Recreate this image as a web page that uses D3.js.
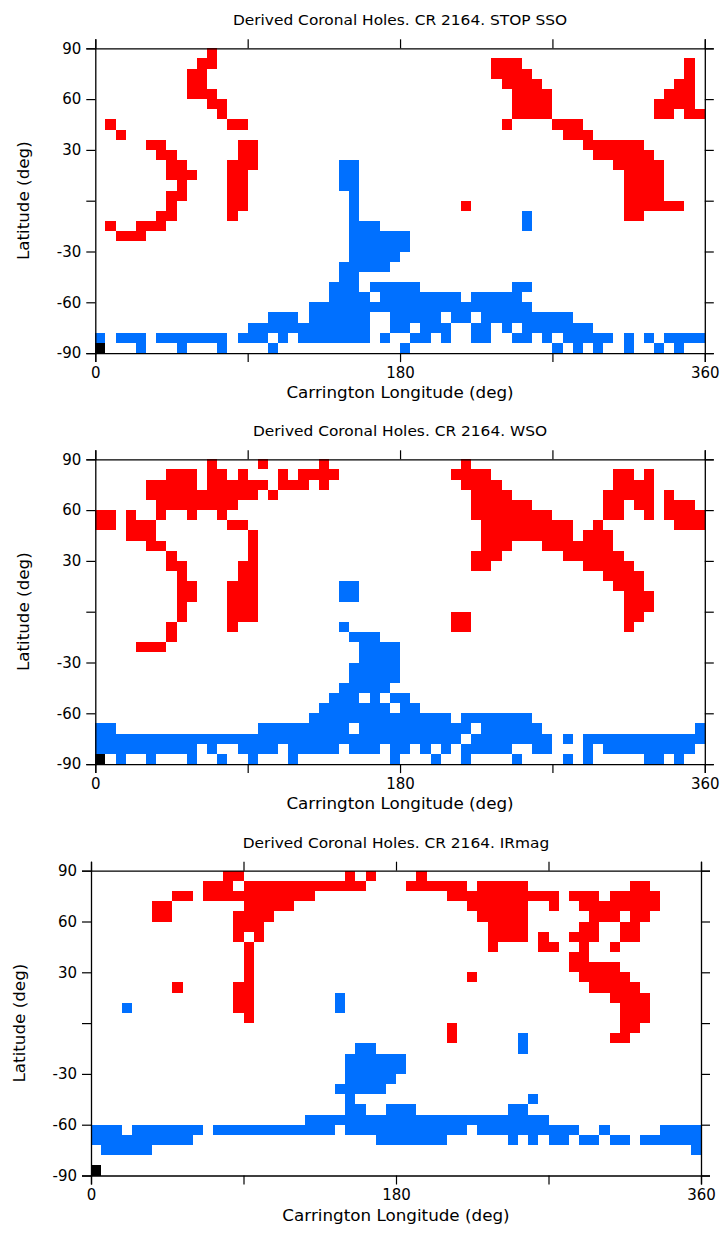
<!DOCTYPE html>
<html><head><meta charset="utf-8">
<script src="https://cdn.jsdelivr.net/npm/d3@7"></script>
<style>
html,body{margin:0;padding:0;background:#fff;}
svg{display:block;}
text{font-family:"DejaVu Sans",sans-serif;fill:#000;}
</style></head><body>
<svg id="chart" width="721" height="1237"></svg>
<script>
// Coronal-hole maps on a 6-degree grid: 60 longitude bins (0..360) x 30 latitude bins (+90..-90).
// Each row (top = +90) lists runs "<code><firstCol>[-<lastCol>]":
//   r = positive-polarity hole, b = negative-polarity hole, k = reference marker.
const titles = [
  "Derived Coronal Holes. CR 2164. STOP SSO",
  "Derived Coronal Holes. CR 2164. WSO",
  "Derived Coronal Holes. CR 2164. IRmag"
];

const holesSTOP = [
  "r11",
  "r10-11 r39-41 r58",
  "r9-10 r39-42 r58",
  "r9-10 r40-43 r57-58",
  "r9-11 r41-44 r56-58",
  "r11-12 r41-44 r55-58",
  "r12 r41-44 r55-56 r58-59",
  "r1 r13-14 r40 r45-47",
  "r2 r46-48",
  "r5-6 r14-15 r48-53",
  "r6-7 r14-15 r49-54",
  "r7-8 r13-15 b24-25 r51-55",
  "r7-9 r13-14 b24-25 r52-55",
  "r8 r13-14 b24-25 r52-55",
  "r7-8 r13-14 b25 r52-55",
  "r7 r13-14 b25 r36 r52-57",
  "r6-7 r13 b25 b42 r52-53",
  "r1 r4-6 b25-27 b42",
  "r2-4 b25-30",
  "b25-30",
  "b25-29",
  "b24-28",
  "b24-25",
  "b23-25 b27-31 b41-42",
  "b23-26 b28-35 b37-41",
  "b21-42",
  "b17-19 b21-26 b29-33 b35-36 b38-46",
  "b15-26 b29-30 b32-34 b37-38 b40 b42-48",
  "b0 b2-4 b6-12 b14-16 b18 b20-26 b28 b31-32 b34 b37-38 b41-42 b44 b46-50 b52 b54 b56-59",
  "k0 b4 b8 b12 b17 b30 b45 b47 b49 b52 b55 b57"
];

const holesWSO = [
  "r11 r16 r22 r36",
  "r7-9 r11-12 r14 r18 r20-23 r35-38 r51-52 r54",
  "r5-9 r11-16 r18-20 r22 r36-39 r51-54",
  "r5-15 r17 r37-40 r50-54 r56",
  "r6-13 r37-42 r50-51 r53-54 r56-58",
  "r0-1 r3 r6 r9 r12 r37-44 r50-51 r54 r56-59",
  "r0-1 r3-5 r13-14 r38-46 r49 r57-59",
  "r3-5 r15 r38-46 r48-50",
  "r5-6 r15 r38-40 r44-50",
  "r7 r15 r37-39 r46-51",
  "r7-8 r14-15 r37-38 r48-52",
  "r8 r14-15 r50-53",
  "r8-9 r13-15 b24-25 r51-53",
  "r8-9 r13-15 b24-25 r52-54",
  "r8 r13-15 r52-54",
  "r8 r13-15 r35-36 r52-53",
  "r7 r13 b24 r35-36 r52",
  "r7 b25-27",
  "r4-6 b26-29",
  "b26-29",
  "b25-29",
  "b25-29",
  "b24-28",
  "b23-25 b27 b29-30",
  "b22-28 b30-31",
  "b21-34 b36-42",
  "b0-1 b16-24 b26-36 b38-43 b59",
  "b0-35 b37-44 b46 b48-59",
  "b0-9 b11 b14-17 b19-23 b25-27 b29-30 b32 b34 b36-40 b43-44 b48 b50-58",
  "k0 b2 b5 b9 b12 b15 b19 b29 b33 b36 b41 b46 b48 b54-55 b57"
];

const holesIRmag = [
  "r13-14 r25 r27 r32",
  "r11-13 r15-26 r31-36 r38-42 r53-54",
  "r8-9 r11-21 r35-45 r47-49 r51-55",
  "r6-7 r15-19 r37-42 r45 r48-55",
  "r6-7 r14-17 r38-42 r49-51 r53-54",
  "r14-16 r39-42 r48-49 r52-53",
  "r14 r16 r39-42 r44 r47-49 r52-53",
  "r15 r39 r44-45 r48 r51",
  "r15 r47-48",
  "r15 r47-51",
  "r15 r37 r48-52",
  "r8 r14-15 r49-53",
  "r14-15 b24 r51-54",
  "b3 r14-15 b24 r52-54",
  "r15 r52-54",
  "r35 r52-53",
  "r35 b42 r51-52",
  "b26-27 b42",
  "b25-30",
  "b25-30",
  "b25-29",
  "b24-28",
  "b25 b43",
  "b25-26 b29-31 b41-42",
  "b21-44",
  "b0-2 b4-10 b12-23 b25-36 b38-47 b50 b56-59",
  "b0-9 b28-34 b41 b43 b45-46 b48-49 b51-52 b54-59",
  "b1-5 b59",
  "",
  "k0"
];

const lonTicks = [0, 90, 180, 270, 360];
const lonLabels = ["0", "", "180", "", "360"];
const latTicks = [90, 60, 30, 0, -30, -60, -90];
const latLabels = ["90", "60", "30", "", "-30", "-60", "-90"];
const binDeg = 6;
const fills = { r: "#ff0000", b: "#0070ff", k: "#000000" };

const panels = [
  { title: titles[0], rows: holesSTOP,  left: 95.3, top: 48.3,  width: 609.5 },
  { title: titles[1], rows: holesWSO,   left: 95.3, top: 459.3, width: 609.5 },
  { title: titles[2], rows: holesIRmag, left: 91,   top: 870.7, width: 610 }
];
const plotH = 304.8;

function parseRow(s) {
  const out = [];
  s.trim().split(/\s+/).filter(Boolean).forEach(tok => {
    const m = tok.match(/^([rbk])(\d+)(?:-(\d+))?$/);
    const a = +m[2], b = m[3] ? +m[3] : a;
    for (let c = a; c <= b; c++) out.push({ code: m[1], col: c });
  });
  return out;
}

const svg = d3.select("#chart");

// the plot lettering runs a little wider than DejaVu Sans at the same size
const titleStretch = 1.1;
const labelStretch = 1.08;

panels.forEach(p => {
  const x = d3.scaleLinear().domain([0, 360]).range([p.left, p.left + p.width]);
  const y = d3.scaleLinear().domain([-90, 90]).range([p.top + plotH, p.top]);
  const g = svg.append("g");

  const cells = [];
  p.rows.forEach((row, i) => {
    const latTop = 90 - binDeg * i;
    parseRow(row).forEach(d => cells.push({ code: d.code, lon: d.col * binDeg, lat: latTop - binDeg }));
  });

  g.append("g").attr("shape-rendering", "crispEdges")
    .selectAll("rect").data(cells).join("rect")
    .attr("x", d => x(d.lon))
    .attr("y", d => y(d.lat + binDeg))
    .attr("width", d => x(d.lon + binDeg) - x(d.lon))
    .attr("height", d => y(d.lat) - y(d.lat + binDeg))
    .attr("fill", d => fills[d.code]);

  const bottom = p.top + plotH, right = p.left + p.width;
  const tick = 9;

  const axB = g.append("g").attr("transform", `translate(0,${bottom})`)
    .call(d3.axisBottom(x).tickValues(lonTicks).tickSize(tick).tickPadding(5)
      .tickFormat((d, i) => lonLabels[i]));
  const axT = g.append("g").attr("transform", `translate(0,${p.top})`)
    .call(d3.axisTop(x).tickValues(lonTicks).tickSize(tick).tickFormat(""));
  const axL = g.append("g").attr("transform", `translate(${p.left},0)`)
    .call(d3.axisLeft(y).tickValues(latTicks).tickSize(tick).tickPadding(5)
      .tickFormat((d, i) => latLabels[i]));
  const axR = g.append("g").attr("transform", `translate(${right},0)`)
    .call(d3.axisRight(y).tickValues(latTicks).tickSize(tick).tickFormat(""));

  [axB, axT, axL, axR].forEach(a => {
    a.selectAll("path.domain").attr("stroke", "#000").attr("stroke-width", 1.3);
    a.selectAll(".tick line").attr("stroke", "#000").attr("stroke-width", 1.2);
    a.selectAll(".tick text").attr("font-size", 15).attr("font-family", "DejaVu Sans").attr("fill", "#000");
  });

  const cx = (p.left + right) / 2;
  const t = g.append("text").attr("x", cx).attr("y", p.top - 23)
    .attr("text-anchor", "middle").attr("font-size", 14).text(p.title);
  t.attr("textLength", t.node().getComputedTextLength() * titleStretch).attr("lengthAdjust", "spacingAndGlyphs");

  const xt = g.append("text").attr("x", cx).attr("y", bottom + 45)
    .attr("text-anchor", "middle").attr("font-size", 15.5).text("Carrington Longitude (deg)");
  xt.attr("textLength", xt.node().getComputedTextLength() * labelStretch).attr("lengthAdjust", "spacingAndGlyphs");

  const yt = g.append("text").attr("transform", `translate(${p.left - 66},${p.top + plotH / 2}) rotate(-90)`)
    .attr("text-anchor", "middle").attr("font-size", 15.5).text("Latitude (deg)");
  yt.attr("textLength", yt.node().getComputedTextLength() * labelStretch).attr("lengthAdjust", "spacingAndGlyphs");
});
</script>
</body></html>
